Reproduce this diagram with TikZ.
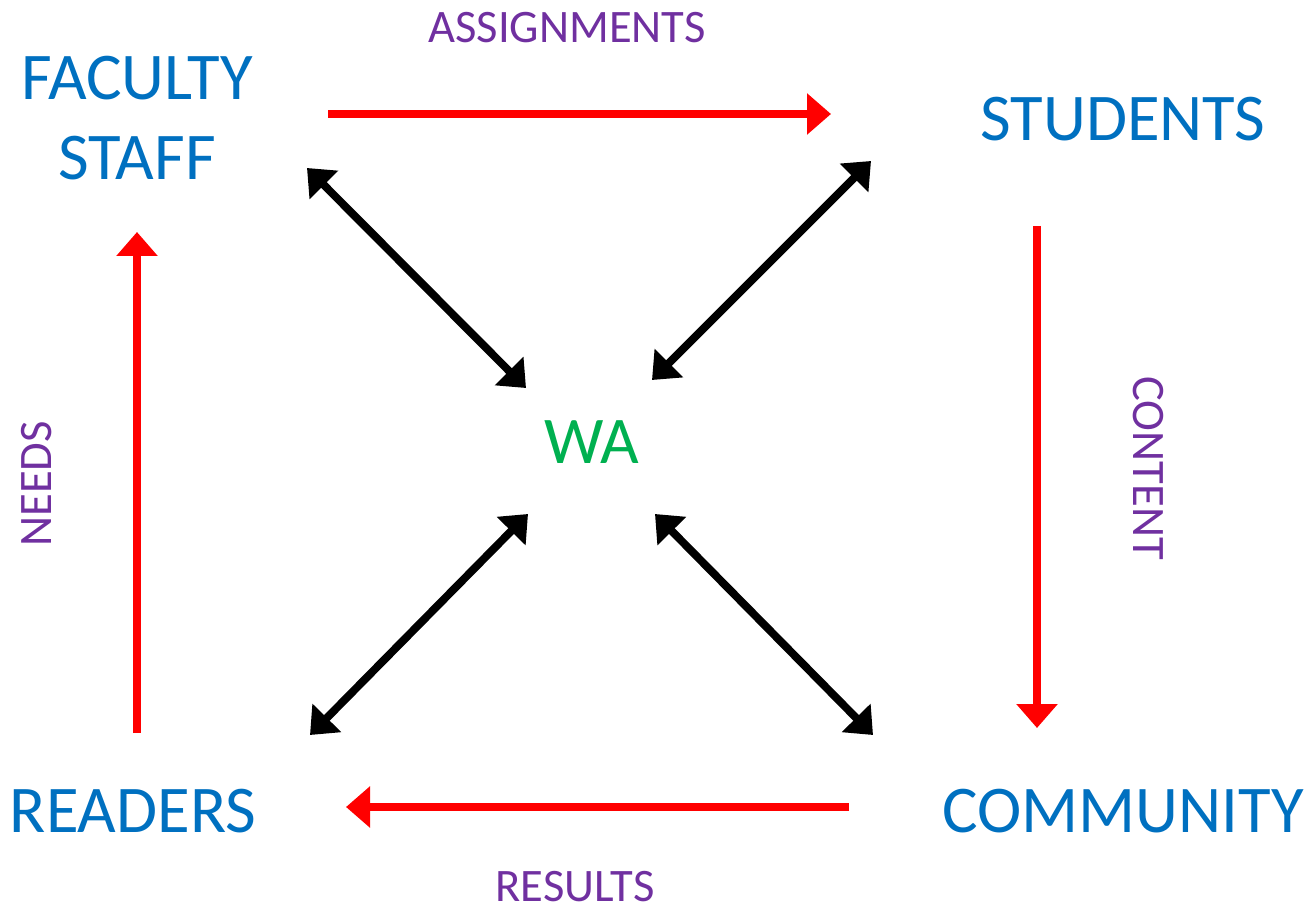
\documentclass[tikz,border=0pt]{standalone}
\usepackage{fontspec}
\setmainfont{Carlito}
\usetikzlibrary{arrows.meta}
\definecolor{roleblue}{HTML}{0070C0}
\definecolor{wagreen}{HTML}{00B050}
\definecolor{flowpurple}{HTML}{7030A0}
\definecolor{flowred}{HTML}{FF0000}
\tikzset{
  role/.style={text=roleblue, font=\fontsize{38}{45.5}\selectfont, inner sep=0pt, align=center},
  center/.style={text=wagreen, font=\fontsize{38}{45.5}\selectfont, inner sep=0pt},
  flowlabel/.style={text=flowpurple, font=\fontsize{26.5}{32}\selectfont, inner sep=0pt},
  flow/.style={draw=flowred, line width=4.5pt, -{Triangle[length=0.48cm,width=0.8cm]}},
  link/.style={draw=black, line width=4.5pt, {Triangle[length=0.48cm,width=0.78cm]}-{Triangle[length=0.48cm,width=0.78cm]}}
}
\begin{document}
\begin{tikzpicture}[x=0.02cm,y=-0.02cm]
\useasboundingbox (0,0) rectangle (1308,912);
% nodes
\node[role, anchor=base] (fac) at (137,100) {FACULTY};
\node[role, anchor=base] (staff) at (137,180) {STAFF};
\node[role, anchor=base] (stu) at (1123,141) {STUDENTS};
\node[center, anchor=base] (wa) at (592,463) {WA};
\node[role, anchor=base] (rea) at (133,832) {READERS};
\node[role, anchor=base] (com) at (1123,832) {COMMUNITY};
% labels
\node[flowlabel, anchor=base] (lassign) at (567,43) {ASSIGNMENTS};
\node[flowlabel, anchor=base, text depth=0pt] (lresults) at (575,901) {RESULTS};
\node[flowlabel, rotate=-90] (lcontent) at (1148,468) {CONTENT};
\node[flowlabel, rotate=90] (lneeds) at (37,484) {NEEDS};
% connector ends
\coordinate (a1) at (328,114); \coordinate (a2) at (831,114);
\coordinate (b1) at (1037,226); \coordinate (b2) at (1037,728);
\coordinate (c1) at (849,807); \coordinate (c2) at (346,807);
\coordinate (d1) at (137,733); \coordinate (d2) at (137,232);
\coordinate (e1) at (307,168); \coordinate (e2) at (526,388);
\coordinate (f1) at (871,161); \coordinate (f2) at (652,380);
\coordinate (g1) at (528,514); \coordinate (g2) at (310,735);
\coordinate (h1) at (655,514); \coordinate (h2) at (873,735);
% red flow arrows
\draw[flow] (a1) -- (a2);
\draw[flow] (b1) -- (b2);
\draw[flow] (c1) -- (c2);
\draw[flow] (d1) -- (d2);
% black double arrows
\draw[link] (e1) -- (e2);
\draw[link] (f1) -- (f2);
\draw[link] (g1) -- (g2);
\draw[link] (h1) -- (h2);
\end{tikzpicture}
\end{document}
